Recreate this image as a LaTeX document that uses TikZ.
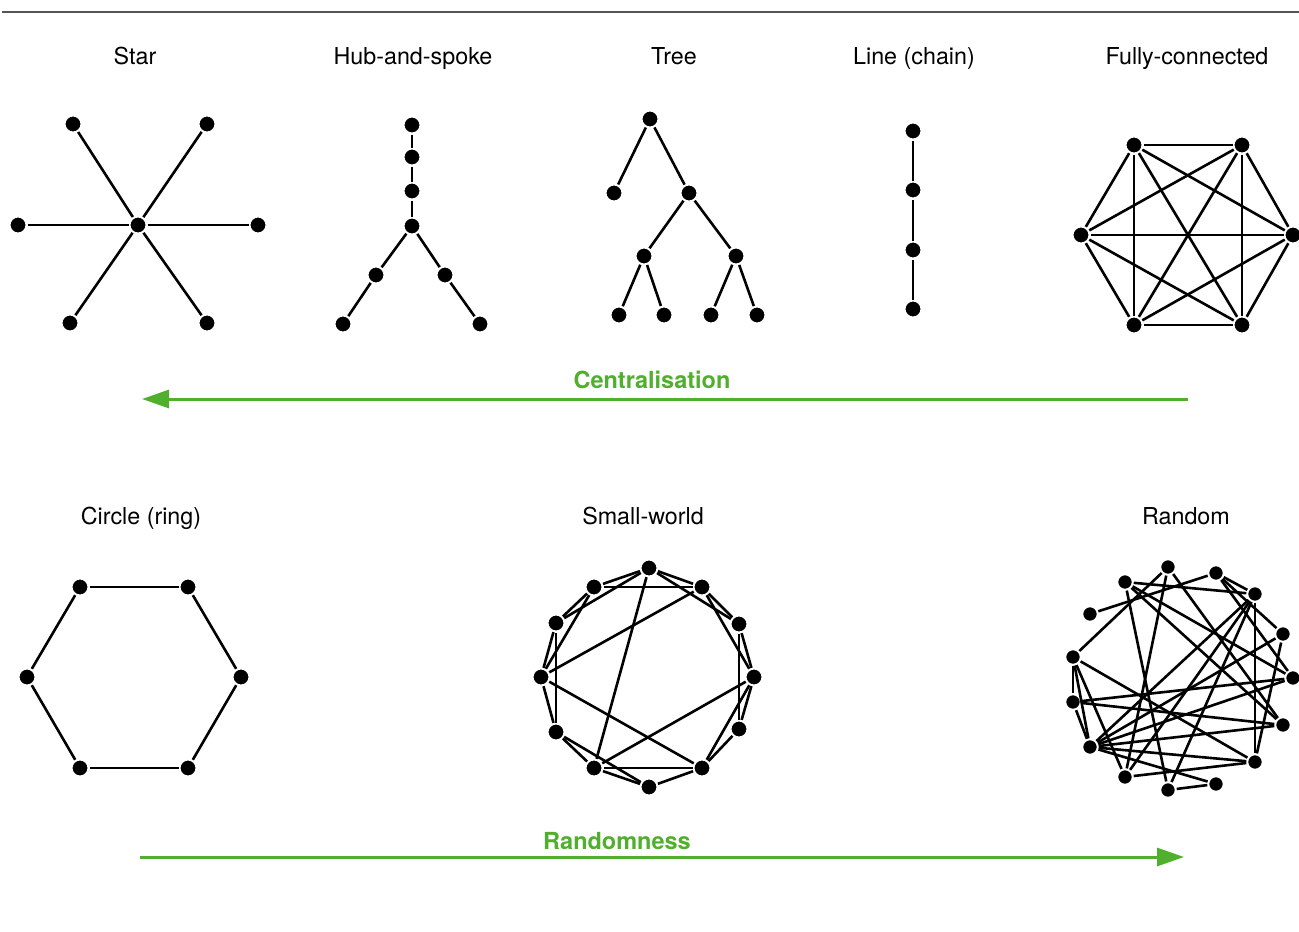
\documentclass[tikz,border=0pt]{standalone}
\usepackage{fontspec}
\setmainfont{TeX Gyre Heros}
\usepackage{tikz}
\usepackage{xcolor}
\usetikzlibrary{arrows.meta}

\definecolor{trendgreen}{RGB}{80,175,45}
\definecolor{rulegray}{RGB}{85,85,85}

\tikzset{
  dot/.style={circle, fill=black, draw=white, line width=2pt, inner sep=0pt, minimum size=17pt},
  smalldot/.style={dot, minimum size=15.5pt},
  link/.style={line width=2.6pt},
  graphname/.style={anchor=base, font=\fontsize{23.3}{28}\selectfont},
  trend/.style={trendgreen, line width=3pt, -{Triangle[length=27pt,width=18pt]}},
  trendname/.style={anchor=base, text=trendgreen, font=\bfseries\fontsize{23.5}{28}\selectfont}
}

\begin{document}
\begin{tikzpicture}[x=1pt, y=-1pt]
\useasboundingbox (0,0) rectangle (1299,932);

\coordinate (ruleL) at (2,12);
\coordinate (ruleR) at (1299,12);
\draw [rulegray, line width=2pt] (ruleL) -- (ruleR);

\node [graphname] (nstar) at (135,64) {Star};
\node [graphname] (nhub) at (413,64) {Hub-and-spoke};
\node [graphname] (ntree) at (674,64) {Tree};
\node [graphname] (nline) at (914,64) {Line (chain)};
\node [graphname] (nfull) at (1187,64) {Fully-connected};
\node [graphname] (nring) at (141,524) {Circle (ring)};
\node [graphname] (nsmall) at (643,524) {Small-world};
\node [graphname] (nrand) at (1186,524) {Random};

% star
\node [dot] (sc) at (138,225) {};
\node [dot] (s1) at (73,124) {};
\node [dot] (s2) at (207,124) {};
\node [dot] (s3) at (18,225) {};
\node [dot] (s4) at (258,225) {};
\node [dot] (s5) at (70,323) {};
\node [dot] (s6) at (207,323) {};
\draw [link] (sc) -- (s1);
\draw [link] (sc) -- (s2);
\draw [link] (sc) -- (s3);
\draw [link] (sc) -- (s4);
\draw [link] (sc) -- (s5);
\draw [link] (sc) -- (s6);

% hub and spoke
\node [dot] (h1) at (412,125) {};
\node [dot] (h2) at (412,157) {};
\node [dot] (h3) at (412,191) {};
\node [dot] (h4) at (412,226) {};
\node [dot] (h5) at (376,275) {};
\node [dot] (h6) at (445,275) {};
\node [dot] (h7) at (343,324) {};
\node [dot] (h8) at (480,324) {};
\draw [link] (h1) -- (h2);
\draw [link] (h2) -- (h3);
\draw [link] (h3) -- (h4);
\draw [link] (h4) -- (h5);
\draw [link] (h4) -- (h6);
\draw [link] (h5) -- (h7);
\draw [link] (h6) -- (h8);

% tree
\node [dot] (t0) at (650,119) {};
\node [dot] (t1) at (614,193) {};
\node [dot] (t2) at (689,193) {};
\node [dot] (t3) at (644,256) {};
\node [dot] (t4) at (736,256) {};
\node [dot] (t5) at (619,315) {};
\node [dot] (t6) at (664,315) {};
\node [dot] (t7) at (711,315) {};
\node [dot] (t8) at (757,315) {};
\draw [link] (t0) -- (t1);
\draw [link] (t0) -- (t2);
\draw [link] (t2) -- (t3);
\draw [link] (t2) -- (t4);
\draw [link] (t3) -- (t5);
\draw [link] (t3) -- (t6);
\draw [link] (t4) -- (t7);
\draw [link] (t4) -- (t8);

% line
\node [dot] (l1) at (913,131) {};
\node [dot] (l2) at (913,190) {};
\node [dot] (l3) at (913,250) {};
\node [dot] (l4) at (913,309) {};
\draw [link] (l1) -- (l2);
\draw [link] (l2) -- (l3);
\draw [link] (l3) -- (l4);

% fully connected
\node [dot] (f1) at (1134,145) {};
\node [dot] (f2) at (1242,145) {};
\node [dot] (f3) at (1293,235) {};
\node [dot] (f4) at (1242,325) {};
\node [dot] (f5) at (1134,325) {};
\node [dot] (f6) at (1081,235) {};
\draw [link] (f1) -- (f2);
\draw [link] (f1) -- (f3);
\draw [link] (f1) -- (f4);
\draw [link] (f1) -- (f5);
\draw [link] (f1) -- (f6);
\draw [link] (f2) -- (f3);
\draw [link] (f2) -- (f4);
\draw [link] (f2) -- (f5);
\draw [link] (f2) -- (f6);
\draw [link] (f3) -- (f4);
\draw [link] (f3) -- (f5);
\draw [link] (f3) -- (f6);
\draw [link] (f4) -- (f5);
\draw [link] (f4) -- (f6);
\draw [link] (f5) -- (f6);

% centralisation arrow
\coordinate (cstart) at (1188,399);
\coordinate (cend) at (142,399);
\draw [trend] (cstart) -- (cend);
\node [trendname] (ctext) at (652,388) {Centralisation};

% ring
\node [dot] (r1) at (80,587) {};
\node [dot] (r2) at (188,587) {};
\node [dot] (r3) at (241,677) {};
\node [dot] (r4) at (188,768) {};
\node [dot] (r5) at (80,768) {};
\node [dot] (r6) at (27,677) {};
\draw [link] (r1) -- (r2);
\draw [link] (r2) -- (r3);
\draw [link] (r3) -- (r4);
\draw [link] (r4) -- (r5);
\draw [link] (r5) -- (r6);
\draw [link] (r6) -- (r1);

% small world
\node [dot] (w0) at (649,568) {};
\node [dot] (w1) at (702,587) {};
\node [dot] (w2) at (739,624) {};
\node [dot] (w3) at (754,677) {};
\node [dot] (w4) at (739,729) {};
\node [dot] (w5) at (702,768) {};
\node [dot] (w6) at (649,787) {};
\node [dot] (w7) at (594,768) {};
\node [dot] (w8) at (556,732) {};
\node [dot] (w9) at (541,677) {};
\node [dot] (w10) at (556,623) {};
\node [dot] (w11) at (594,587) {};
\draw [link] (w0) -- (w1);
\draw [link] (w1) -- (w2);
\draw [link] (w2) -- (w3);
\draw [link] (w3) -- (w4);
\draw [link] (w4) -- (w5);
\draw [link] (w5) -- (w6);
\draw [link] (w6) -- (w7);
\draw [link] (w7) -- (w8);
\draw [link] (w8) -- (w9);
\draw [link] (w9) -- (w10);
\draw [link] (w10) -- (w11);
\draw [link] (w11) -- (w0);
\draw [link] (w0) -- (w2);
\draw [link] (w1) -- (w3);
\draw [link] (w2) -- (w4);
\draw [link] (w3) -- (w5);
\draw [link] (w5) -- (w7);
\draw [link] (w6) -- (w8);
\draw [link] (w8) -- (w10);
\draw [link] (w9) -- (w11);
\draw [link] (w10) -- (w0);
\draw [link] (w11) -- (w1);
\draw [link] (w0) -- (w7);
\draw [link] (w1) -- (w9);
\draw [link] (w9) -- (w5);
\draw [link] (w3) -- (w7);

% random
\node [smalldot] (ra) at (1168,567) {};
\node [smalldot] (rb) at (1216,573) {};
\node [smalldot] (rc) at (1125,582) {};
\node [smalldot] (rd) at (1255,594) {};
\node [smalldot] (re) at (1090,614) {};
\node [smalldot] (rf) at (1283,634) {};
\node [smalldot] (rg) at (1073,657) {};
\node [smalldot] (rh) at (1293,678) {};
\node [smalldot] (ri) at (1073,702) {};
\node [smalldot] (rj) at (1283,725) {};
\node [smalldot] (rk) at (1090,747) {};
\node [smalldot] (rl) at (1255,762) {};
\node [smalldot] (rm) at (1125,777) {};
\node [smalldot] (rn) at (1216,784) {};
\node [smalldot] (ro) at (1168,790) {};
\draw [link] (re) -- (rb);
\draw [link] (rg) -- (ra);
\draw [link] (rc) -- (rd);
\draw [link] (rc) -- (ro);
\draw [link] (ra) -- (rm);
\draw [link] (ra) -- (rj);
\draw [link] (rc) -- (rh);
\draw [link] (rc) -- (rj);
\draw [link] (rb) -- (rd);
\draw [link] (rb) -- (rf);
\draw [link] (rb) -- (rh);
\draw [link] (rd) -- (rl);
\draw [link] (rd) -- (rm);
\draw [link] (rd) -- (ro);
\draw [link] (rd) -- (rk);
\draw [link] (rf) -- (rk);
\draw [link] (rf) -- (rl);
\draw [link] (rg) -- (ri);
\draw [link] (rg) -- (rk);
\draw [link] (rg) -- (rm);
\draw [link] (rg) -- (rl);
\draw [link] (ri) -- (rk);
\draw [link] (ri) -- (rh);
\draw [link] (ri) -- (rj);
\draw [link] (rk) -- (rh);
\draw [link] (rk) -- (rj);
\draw [link] (rk) -- (rl);
\draw [link] (rk) -- (rn);
\draw [link] (rm) -- (rl);
\draw [link] (ro) -- (rn);

% randomness arrow
\coordinate (rstart) at (140,857);
\coordinate (rend) at (1184,857);
\draw [trend] (rstart) -- (rend);
\node [trendname] (rtext) at (617,849) {Randomness};
\end{tikzpicture}
\end{document}
